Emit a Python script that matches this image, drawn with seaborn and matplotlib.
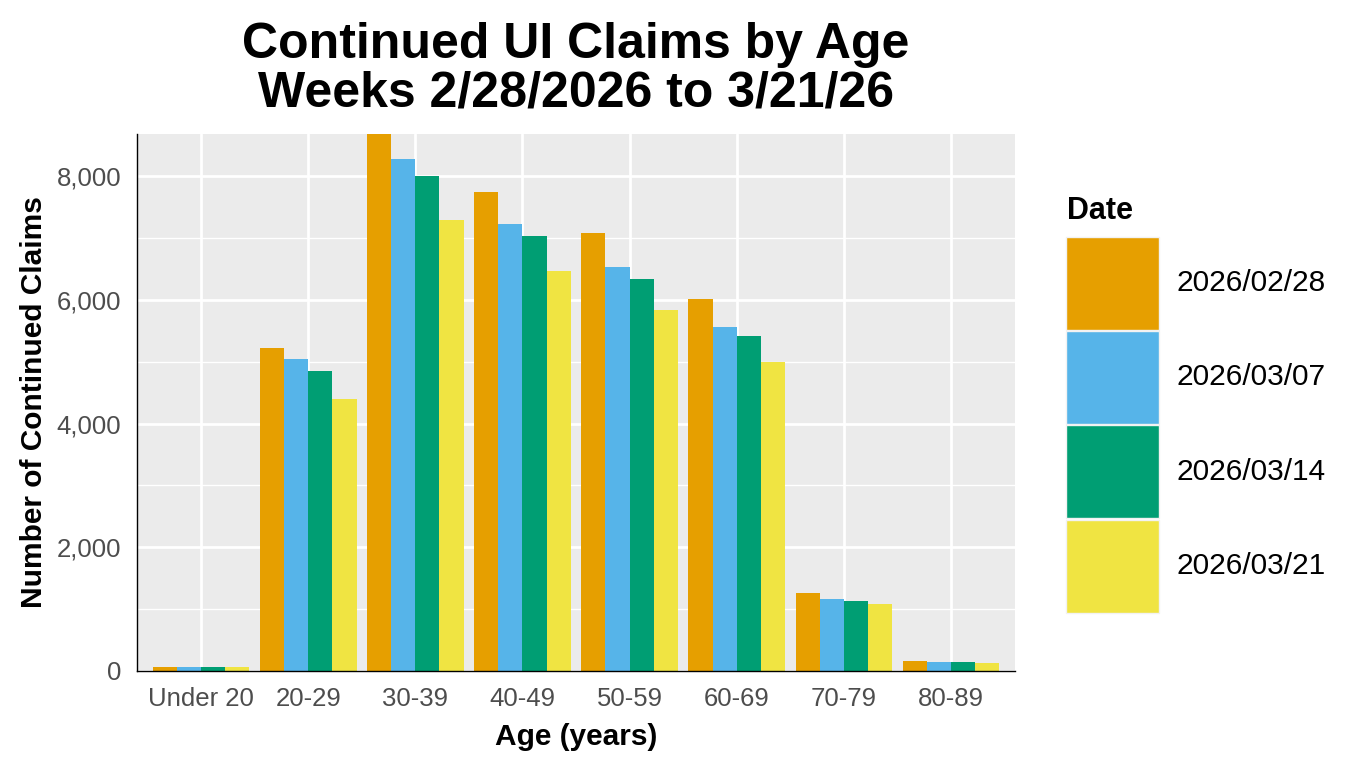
import matplotlib
matplotlib.use("Agg")
import matplotlib.pyplot as plt
import matplotlib.ticker as mticker
from matplotlib.patches import Patch
import seaborn as sns
import pandas as pd

ages = ["Under 20", "20-29", "30-39", "40-49", "50-59", "60-69", "70-79", "80-89"]
dates = ["2026/02/28", "2026/03/07", "2026/03/14", "2026/03/21"]
claims_0228 = [65, 5220, 8680, 7740, 7080, 6010, 1260, 165]
claims_0307 = [64, 5040, 8270, 7220, 6530, 5560, 1165, 145]
claims_0314 = [65, 4850, 8000, 7030, 6330, 5410, 1130, 145]
claims_0321 = [62, 4390, 7290, 6460, 5830, 4990, 1080, 130]
colors = ["#E69F00", "#56B4E9", "#009E73", "#F0E442"]

series = [claims_0228, claims_0307, claims_0314, claims_0321]
rows = []
for d, vals in zip(dates, series):
    for a, v in zip(ages, vals):
        rows.append({"Age": a, "Date": d, "Claims": v})
df = pd.DataFrame(rows)

sns.set_theme(style="white")
plt.rcParams["font.family"] = ["Liberation Sans", "DejaVu Sans"]
plt.rcParams["text.color"] = "black"

W, H = 1363, 766
fig = plt.figure(figsize=(W / 100, H / 100), dpi=100)
ax = fig.add_axes([137 / W, 1 - 671 / H, 878 / W, 537 / H])

sns.barplot(data=df, x="Age", y="Claims", hue="Date", order=ages, hue_order=dates,
            palette=colors, width=0.9, gap=0, saturation=1, linewidth=0,
            errorbar=None, ax=ax, legend=False, zorder=3)

ymax = max(max(s) for s in series)
ax.set_ylim(0, ymax)
ax.set_xlim(-0.6, len(ages) - 0.4)

ax.set_facecolor("#EBEBEB")
ax.yaxis.set_major_locator(mticker.MultipleLocator(2000))
ax.yaxis.set_minor_locator(mticker.MultipleLocator(1000))
ax.yaxis.set_major_formatter(mticker.FuncFormatter(lambda v, p: f"{int(v):,}"))
ax.grid(which="major", axis="both", color="white", linewidth=2.0, zorder=0)
ax.grid(which="minor", axis="y", color="white", linewidth=1.0, zorder=0)
ax.set_axisbelow(True)

for s in ["top", "right"]:
    ax.spines[s].set_visible(False)
for s in ["left", "bottom"]:
    ax.spines[s].set_color("black")
    ax.spines[s].set_linewidth(1.0)
    ax.spines[s].set_zorder(5)

ax.tick_params(axis="both", which="major", length=5.5, width=1.1, color="#333333",
               labelsize=18.5, labelcolor="#4D4D4D")
ax.tick_params(axis="x", which="major", pad=6)
ax.tick_params(axis="y", which="major", pad=6)
ax.tick_params(axis="y", which="minor", length=0)

ax.set_xlabel("Age (years)", fontsize=21.5, fontweight="bold", color="black", labelpad=9)
ax.set_ylabel("Number of Continued Claims", fontsize=21.5, fontweight="bold", color="black", labelpad=6)

ax.set_title("Continued UI Claims by Age\nWeeks 2/28/2026 to 3/21/26", fontsize=36,
             fontweight="bold", color="black", pad=20, linespacing=1.07)

handles = [Patch(facecolor=c, edgecolor="#F2F2F2", linewidth=1.0) for c in colors]
fs = 21.5
fs_px = fs * 100 / 72
key_px = 93
hh = (key_px / fs_px - 0.245) / 0.65
leg = fig.legend(handles, dates, loc="upper left", bbox_to_anchor=(1066 / W, 1 - 237 / H),
                 frameon=False, fontsize=fs, handlelength=key_px / fs_px, handleheight=hh,
                 labelspacing=1.2 / fs_px, handletextpad=18 / fs_px, borderpad=0,
                 borderaxespad=0, labelcolor="black")
fig.text(1067 / W, 1 - 219 / H, "Date", fontsize=22, fontweight="bold", ha="left",
         va="baseline", color="black")

fig.savefig("out.png", dpi=100, facecolor="white")
